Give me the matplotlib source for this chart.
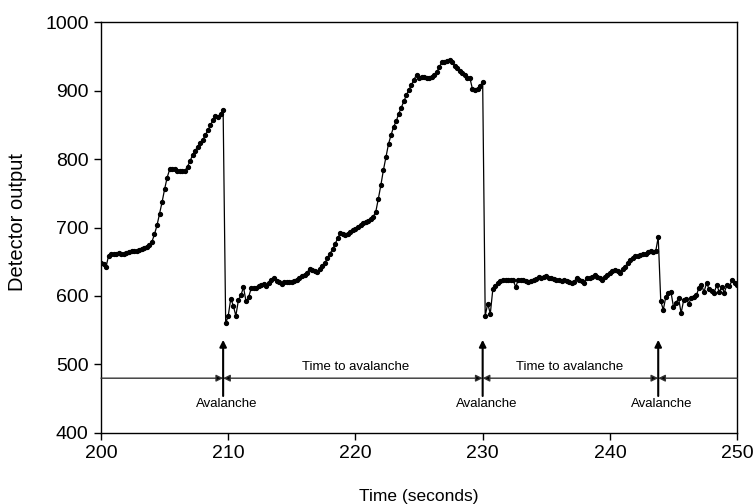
import numpy as np
import matplotlib
matplotlib.use("Agg")
import matplotlib.pyplot as plt

plt.rcParams['font.family'] = ['Liberation Sans', 'DejaVu Sans']

# Detector output sampled every 0.2 s from t = 200 s
t_start = 200.0
t_step = 0.2
seg_a = [648, 646, 643, 659, 661, 662, 662, 663, 662, 661,
         663, 664, 665, 666, 666, 667, 669, 670, 672, 675,
         679, 690, 703, 720, 737, 756, 773, 785, 786, 785,
         783, 782, 782, 783, 789, 797, 806, 812, 818, 823,
         828, 835, 842, 849, 857, 863, 862, 866, 871]
seg_b = [560, 571, 596, 586, 571, 594, 601, 613, 592, 598, 611,
         612, 612, 614, 616, 618, 615, 619, 623, 626, 622,
         621, 618, 621, 620, 621, 621, 622, 623, 626, 629,
         631, 634, 640, 638, 636, 635, 639, 644, 648, 656,
         662, 668, 676, 684, 692, 690, 689, 690, 693, 696,
         698, 701, 704, 706, 708, 710, 713, 716, 723, 742,
         762, 784, 803, 822, 835, 847, 855, 866, 875, 884,
         893, 901, 908, 916, 923, 919, 920, 920, 919, 918,
         920, 923, 927, 935, 941, 942, 943, 945, 941, 936,
         933, 929, 926, 922, 919, 918, 902, 901, 902, 906,
         913]
seg_c = [571, 589, 574, 610, 615, 619, 622, 623, 624, 624,
         624, 623, 613, 624, 623, 623, 622, 621, 622, 623,
         625, 628, 626, 628, 629, 627, 626, 625, 624, 623,
         622, 624, 622, 620, 619, 621, 627, 624, 622, 619,
         627, 626, 628, 630, 628, 626, 624, 628, 631, 633,
         636, 638, 636, 634, 639, 643, 648, 653, 656, 658,
         659, 660, 661, 662, 664, 665, 664, 665, 686]
seg_d = [592, 580, 599, 604, 606, 584, 590, 597, 575, 594,
         596, 589, 597, 599, 601, 612, 616, 606, 619, 610,
         607, 605, 616, 606, 613, 605, 616, 614, 623, 619,
         616]
values = seg_a + seg_b + seg_c + seg_d
times = t_start + t_step * np.arange(len(values))

avalanche_times = [209.6, 230.0, 243.8]
avalanche_labels = ["Avalanche", "Avalanche", "Avalanche"]
interval_label_x = [220.0, 236.8]
interval_label = "Time to avalanche"
arrow_level = 480

fig = plt.figure(figsize=(7.56, 5.04), dpi=100)
ax = fig.add_axes([0.1336, 0.1409, 0.8414, 0.8154])

ax.plot(times, values, color='black', lw=0.9, marker='o', ms=2.8,
        mec='black', mfc='black')

# horizontal arrows
bounds = [200.0] + avalanche_times + [250.0]
for i in range(len(bounds) - 1):
    a, b = bounds[i], bounds[i + 1]
    if i == 0:
        style = '-|>'
    elif i == len(bounds) - 2:
        style = '<|-'
    else:
        style = '<|-|>'
    ax.annotate('', xy=(b, arrow_level), xytext=(a, arrow_level),
                arrowprops=dict(arrowstyle=style, color='#333333', lw=1.0,
                                mutation_scale=10, shrinkA=0, shrinkB=0,
                                fc='black', ec='#333333'))

# vertical arrows and labels
for ta, lab in zip(avalanche_times, avalanche_labels):
    ax.annotate('', xy=(ta, 536), xytext=(ta, 454),
                arrowprops=dict(arrowstyle='-|>', color='black', lw=1.5,
                                mutation_scale=10, shrinkA=0, shrinkB=0))
    ax.text(ta + 0.3, 443, lab, ha='center', va='center', fontsize=9.5)

for xl in interval_label_x:
    ax.text(xl, 496, interval_label, ha='center', va='center', fontsize=9.5)

ax.set_xlim(200, 250)
ax.set_ylim(400, 1000)
ax.set_xticks([200, 210, 220, 230, 240, 250])
ax.set_yticks([400, 500, 600, 700, 800, 900, 1000])
ax.tick_params(direction='out', length=5, labelsize=14, width=1, pad=4)
for s in ax.spines.values():
    s.set_linewidth(1.0)

fig.text(419 / 756, 1 - 496 / 504, 'Time (seconds)', fontsize=12.5,
         ha='center', va='center')
fig.text(18 / 756, 1 - 222 / 504, 'Detector output', fontsize=14.5,
         ha='center', va='center', rotation=90)

fig.savefig('out.png', dpi=100)
